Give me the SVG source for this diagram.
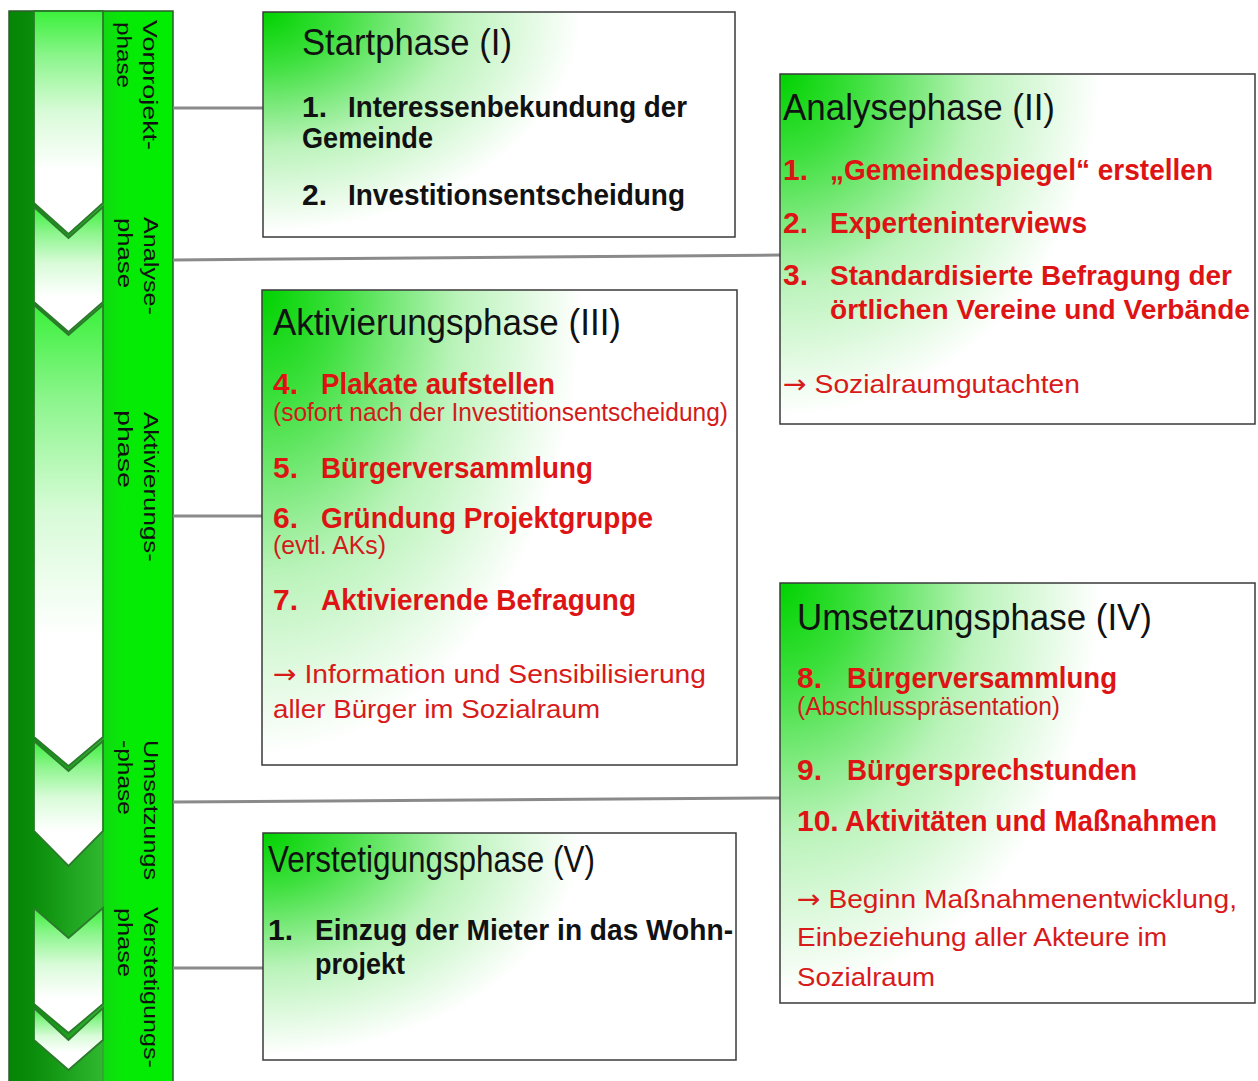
<svg xmlns="http://www.w3.org/2000/svg" width="1258" height="1081" viewBox="0 0 1258 1081">
<defs>
<radialGradient id="boxg" cx="0" cy="0" r="0.75" fx="0" fy="0" gradientTransform="scale(1,1.45)">
<stop offset="0" stop-color="#00d200"/>
<stop offset="0.22" stop-color="#3ee03e"/>
<stop offset="0.55" stop-color="#baf3ba"/>
<stop offset="0.9" stop-color="#ffffff"/>
</radialGradient>
<linearGradient id="chev" x1="0" y1="0" x2="0" y2="1">
<stop offset="0" stop-color="#3af03a"/>
<stop offset="0.2" stop-color="#8af58a"/>
<stop offset="0.45" stop-color="#d8fbd8"/>
<stop offset="0.72" stop-color="#ffffff"/>
<stop offset="1" stop-color="#ffffff"/>
</linearGradient>
<linearGradient id="barl" x1="0" y1="0" x2="1" y2="0">
<stop offset="0" stop-color="#058505"/>
<stop offset="0.26" stop-color="#0a8d0a"/>
<stop offset="1" stop-color="#30b830"/>
</linearGradient>
<linearGradient id="barr" x1="0" y1="0" x2="1" y2="0">
<stop offset="0" stop-color="#12d812"/>
<stop offset="0.3" stop-color="#06ea06"/>
<stop offset="1" stop-color="#00ee00"/>
</linearGradient>
</defs>
<style>
.box{fill:url(#boxg);stroke:#3a3a3a;stroke-width:1.5}
.chev{fill:url(#chev);stroke:#2c7a2c;stroke-width:1.8}
.t{font-family:"Liberation Sans",Arial,sans-serif;font-size:36px;fill:#111}
.b{font-family:"Liberation Sans",Arial,sans-serif;font-size:30px;font-weight:bold;fill:#111}
.rb{font-family:"Liberation Sans",Arial,sans-serif;font-size:30px;font-weight:bold;fill:#de1414}
.rs{font-family:"Liberation Sans",Arial,sans-serif;font-size:25px;fill:#d21a1a}
.rr{font-family:"Liberation Sans",Arial,sans-serif;font-size:26px;fill:#d81a1a}
.ar{font-family:"DejaVu Sans",sans-serif}
.v{font-family:"Liberation Sans",Arial,sans-serif;font-size:21px;fill:#111}
.conn{stroke:#8a8a8a;stroke-width:3;fill:none}
</style>
<rect width="1258" height="1081" fill="#ffffff"/>

<g id="phase-bar">
<rect x="9" y="11" width="94" height="1075" fill="url(#barl)"/>
<rect x="103" y="11" width="70" height="1075" fill="url(#barr)"/>
<line x1="103" y1="11" x2="103" y2="1081" stroke="#3b8f3b" stroke-width="1"/>
<rect x="9" y="11" width="164" height="1075" fill="none" stroke="#2d5a2d" stroke-width="1.5"/>
<path class="chev" d="M34,11 H103 V203 L68.5,234 L34,203 Z"/>
<path class="chev" d="M34,207 L68.5,238 L103,207 V302 L68.5,332 L34,302 Z"/>
<path class="chev" d="M34,305 L68.5,335 L103,305 V737 L68.5,766 L34,737 Z"/>
<path class="chev" d="M34,741 L68.5,771 L103,741 V831 L68.5,866 L34,831 Z"/>
<path class="chev" d="M34,908 L68.5,938 L103,908 V1004 L68.5,1033 L34,1004 Z"/>
<path class="chev" d="M34,1008 L68.5,1040 L103,1008 V1040 L68.5,1070 L34,1040 Z"/>
<text class="v" transform="translate(143,20) rotate(90)" textLength="130" lengthAdjust="spacingAndGlyphs">Vorprojekt-</text>
<text class="v" transform="translate(117,22) rotate(90)" textLength="66" lengthAdjust="spacingAndGlyphs">phase</text>
<text class="v" transform="translate(144,217) rotate(90)" textLength="98" lengthAdjust="spacingAndGlyphs">Analyse-</text>
<text class="v" transform="translate(118,218) rotate(90)" textLength="70" lengthAdjust="spacingAndGlyphs">phase</text>
<text class="v" transform="translate(144,412) rotate(90)" textLength="150" lengthAdjust="spacingAndGlyphs">Aktivierungs-</text>
<text class="v" transform="translate(118,410) rotate(90)" textLength="78" lengthAdjust="spacingAndGlyphs">phase</text>
<text class="v" transform="translate(144,740) rotate(90)" textLength="140" lengthAdjust="spacingAndGlyphs">Umsetzungs</text>
<text class="v" transform="translate(118,740) rotate(90)" textLength="75" lengthAdjust="spacingAndGlyphs">-phase</text>
<text class="v" transform="translate(144,907) rotate(90)" textLength="161" lengthAdjust="spacingAndGlyphs">Verstetigungs-</text>
<text class="v" transform="translate(118,908) rotate(90)" textLength="69" lengthAdjust="spacingAndGlyphs">phase</text>
</g>

<g id="connectors">
<line class="conn" x1="173" y1="108" x2="263" y2="108"/>
<line class="conn" x1="173" y1="260" x2="780" y2="255"/>
<line class="conn" x1="173" y1="516" x2="262" y2="516"/>
<line class="conn" x1="173" y1="802" x2="780" y2="798"/>
<line class="conn" x1="173" y1="968" x2="263" y2="968"/>
</g>

<g id="node-start">
<rect class="box" x="263" y="12" width="472" height="225"/>
<text class="t" x="302" y="55" textLength="210" lengthAdjust="spacingAndGlyphs">Startphase (I)</text>
<text class="b" x="302" y="117">1.</text>
<text class="b" x="348" y="117" textLength="339" lengthAdjust="spacingAndGlyphs">Interessenbekundung der</text>
<text class="b" x="302" y="148" textLength="131" lengthAdjust="spacingAndGlyphs">Gemeinde</text>
<text class="b" x="302" y="205">2.</text>
<text class="b" x="348" y="205" textLength="337" lengthAdjust="spacingAndGlyphs">Investitionsentscheidung</text>
</g>

<g id="node-analyse">
<rect class="box" x="780" y="74" width="475" height="350"/>
<text class="t" x="783" y="120" textLength="272" lengthAdjust="spacingAndGlyphs">Analysephase (II)</text>
<text class="rb" x="783" y="180">1.</text>
<text class="rb" x="830" y="180" textLength="383" lengthAdjust="spacingAndGlyphs">„Gemeindespiegel“ erstellen</text>
<text class="rb" x="783" y="233">2.</text>
<text class="rb" x="830" y="233" textLength="257" lengthAdjust="spacingAndGlyphs">Experteninterviews</text>
<text class="rb" x="783" y="285">3.</text>
<text class="rb" x="830" y="285" style="font-size:28px" textLength="402" lengthAdjust="spacingAndGlyphs">Standardisierte Befragung der</text>
<text class="rb" x="830" y="319" style="font-size:27.5px" textLength="420" lengthAdjust="spacingAndGlyphs">örtlichen Vereine und Verbände</text>
<text class="rr" x="783" y="393" textLength="297" lengthAdjust="spacingAndGlyphs"><tspan class="ar">→</tspan> Sozialraumgutachten</text>
</g>

<g id="node-aktivierung">
<rect class="box" x="262" y="290" width="475" height="475"/>
<text class="t" x="273" y="335" textLength="348" lengthAdjust="spacingAndGlyphs">Aktivierungsphase (III)</text>
<text class="rb" x="273" y="394">4.</text>
<text class="rb" x="321" y="394" textLength="234" lengthAdjust="spacingAndGlyphs">Plakate aufstellen</text>
<text class="rs" x="273" y="421" textLength="455" lengthAdjust="spacingAndGlyphs">(sofort nach der Investitionsentscheidung)</text>
<text class="rb" x="273" y="478">5.</text>
<text class="rb" x="321" y="478" textLength="272" lengthAdjust="spacingAndGlyphs">Bürgerversammlung</text>
<text class="rb" x="273" y="528">6.</text>
<text class="rb" x="321" y="528" textLength="332" lengthAdjust="spacingAndGlyphs">Gründung Projektgruppe</text>
<text class="rs" x="273" y="554" textLength="113" lengthAdjust="spacingAndGlyphs">(evtl. AKs)</text>
<text class="rb" x="273" y="610">7.</text>
<text class="rb" x="321" y="610" textLength="315" lengthAdjust="spacingAndGlyphs">Aktivierende Befragung</text>
<text class="rr" x="273" y="683" textLength="433" lengthAdjust="spacingAndGlyphs"><tspan class="ar">→</tspan> Information und Sensibilisierung</text>
<text class="rr" x="273" y="718" textLength="327" lengthAdjust="spacingAndGlyphs">aller Bürger im Sozialraum</text>
</g>

<g id="node-umsetzung">
<rect class="box" x="780" y="583" width="475" height="420"/>
<text class="t" x="797" y="630" textLength="355" lengthAdjust="spacingAndGlyphs">Umsetzungsphase (IV)</text>
<text class="rb" x="797" y="688">8.</text>
<text class="rb" x="847" y="688" textLength="270" lengthAdjust="spacingAndGlyphs">Bürgerversammlung</text>
<text class="rs" x="797" y="715" textLength="263" lengthAdjust="spacingAndGlyphs">(Abschlusspräsentation)</text>
<text class="rb" x="797" y="780">9.</text>
<text class="rb" x="847" y="780" textLength="290" lengthAdjust="spacingAndGlyphs">Bürgersprechstunden</text>
<text class="rb" x="797" y="831">10.</text>
<text class="rb" x="845" y="831" textLength="372" lengthAdjust="spacingAndGlyphs">Aktivitäten und Maßnahmen</text>
<text class="rr" x="797" y="908" textLength="440" lengthAdjust="spacingAndGlyphs"><tspan class="ar">→</tspan> Beginn Maßnahmenentwicklung,</text>
<text class="rr" x="797" y="946" textLength="370" lengthAdjust="spacingAndGlyphs">Einbeziehung aller Akteure im</text>
<text class="rr" x="797" y="986" textLength="138" lengthAdjust="spacingAndGlyphs">Sozialraum</text>
</g>

<g id="node-verstetigung">
<rect class="box" x="263" y="833" width="473" height="227"/>
<text class="t" x="268" y="872" textLength="327" lengthAdjust="spacingAndGlyphs">Verstetigungsphase (V)</text>
<text class="b" x="268" y="940">1.</text>
<text class="b" x="315" y="940" textLength="418" lengthAdjust="spacingAndGlyphs">Einzug der Mieter in das Wohn-</text>
<text class="b" x="315" y="974" textLength="90" lengthAdjust="spacingAndGlyphs">projekt</text>
</g>
</svg>
